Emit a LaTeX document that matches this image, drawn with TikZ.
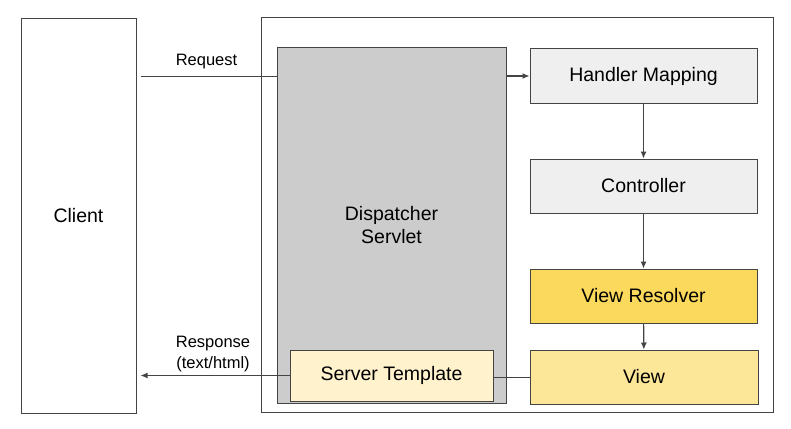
\documentclass[tikz,border=0pt]{standalone}
\usepackage{fontspec}
\setmainfont{Liberation Sans}
\usetikzlibrary{arrows.meta,positioning,calc}
\definecolor{dsgray}{HTML}{CCCCCC}
\definecolor{dslight}{HTML}{EFEFEF}
\definecolor{dsgold}{HTML}{FAD95C}
\definecolor{dsyellow}{HTML}{FCE697}
\definecolor{dscream}{HTML}{FFF2CC}
\definecolor{dsline}{HTML}{444444}
\begin{document}
\begin{tikzpicture}[x=1pt,y=-1pt,every node/.style={font=\fontsize{19.5}{23}\selectfont},
        box/.style={draw=dsline,line width=1pt,align=center,inner sep=0pt},
        lbl/.style={font=\fontsize{16.5}{20.5}\selectfont,align=center},
        arr/.style={draw=dsline,line width=1.1pt,-{Latex[length=7pt,width=6pt]}}]
      \useasboundingbox (0,0) rectangle (791,428);
      \node[box,minimum width=512,minimum height=394] (outer) at (517,215) {};
      \node[box,minimum width=115,minimum height=394] (client) at (78.5,216) {Client};
      \node[box,fill=dsgray,minimum width=229,minimum height=355] (disp) at (391.5,225.5) {Dispatcher\\Servlet};
      \node[box,fill=dslight,minimum width=227,minimum height=54] (hm)  at (643.5,76)  {Handler Mapping};
      \node[box,fill=dslight,minimum width=227,minimum height=54] (ctl) at (643.5,186) {Controller};
      \node[box,fill=dsgold,minimum width=227,minimum height=54] (vr)  at (643.5,296) {View Resolver};
      \node[box,fill=dsyellow,minimum width=228,minimum height=54] (view) at (644,377) {View};
      \node[box,fill=dscream,minimum width=203,minimum height=51] (tmpl) at (391.5,375.5) {Server Template};
      \coordinate (reqy) at (0,76);
      \draw[draw=dsline,line width=1pt,shorten <=4pt] (client.east |- reqy) -- node[lbl,above=3pt]{Request} (disp.west |- reqy);
      \draw[arr] (disp.east |- reqy) -- (hm.west |- reqy);
      \draw[arr] (hm) -- (ctl); \draw[arr] (ctl) -- (vr); \draw[arr] (vr) -- (view);
      \draw[draw=dsline,line width=1pt] (view.west) -- (tmpl.east |- view.west);
      \draw[arr,shorten >=4pt] (tmpl.west) -- node[lbl,above=0pt]{Response\\(text/html)} (client.east |- tmpl.west);
    \end{tikzpicture}
\end{document}
